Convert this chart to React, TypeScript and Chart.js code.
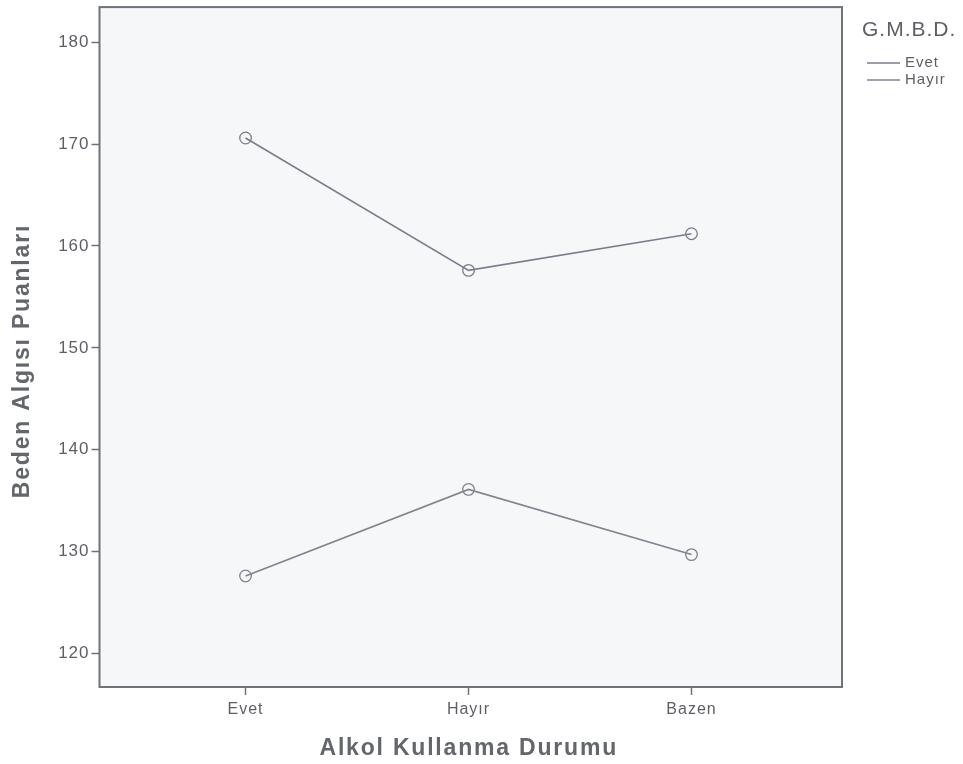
import React, { useEffect, useRef } from "react";
import { Chart, registerables } from "chart.js";

Chart.register(...registerables);

const categories = ["Evet", "Hayır", "Bazen"];
const seriesNames = ["Evet", "Hayır"];
const evetValues = [170.6, 157.6, 161.2];
const hayirValues = [127.6, 136.1, 129.7];
const yTickValues = [120, 130, 140, 150, 160, 170, 180];
const legendTitle = "G.M.B.D.";
const xTitle = "Alkol Kullanma Durumu";
const yTitle = "Beden Algısı Puanları";

const FONT = "'Liberation Sans', Arial, Helvetica, sans-serif";
const TEXT_COLOR = "#5c5f66";
const TITLE_COLOR = "#63666d";
const FRAME_COLOR = "#6f727a";

export default function App() {
  const canvasRef = useRef<HTMLCanvasElement | null>(null);

  useEffect(() => {
    const canvas = canvasRef.current;
    if (!canvas) return;

    const decorPlugin = {
      id: "decor",
      beforeDraw(chart: any) {
        const { ctx, chartArea } = chart;
        (ctx as any).letterSpacing = "1px";
        ctx.save();
        ctx.fillStyle = "#ffffff";
        ctx.fillRect(0, 0, chart.width, chart.height);
        ctx.fillStyle = "#f6f7f9";
        ctx.fillRect(chartArea.left, chartArea.top, chartArea.right - chartArea.left, chartArea.bottom - chartArea.top);
        ctx.restore();
      },
      afterDraw(chart: any) {
        const { ctx, chartArea } = chart;
        ctx.save();
        ctx.strokeStyle = FRAME_COLOR;
        ctx.lineWidth = 2;
        ctx.strokeRect(chartArea.left, chartArea.top, chartArea.right - chartArea.left, chartArea.bottom - chartArea.top);

        // axis titles
        ctx.fillStyle = TITLE_COLOR;
        ctx.font = `bold 23px ${FONT}`;
        (ctx as any).letterSpacing = "1.8px";
        ctx.textAlign = "center";
        ctx.textBaseline = "alphabetic";
        ctx.fillText(xTitle, (chartArea.left + chartArea.right) / 2 - 2, chart.height - 9);
        ctx.save();
        ctx.translate(29, (chartArea.top + chartArea.bottom) / 2 + 14);
        ctx.rotate(-Math.PI / 2);
        ctx.fillText(yTitle, 0, 0);
        ctx.restore();

        // legend
        const lx = chartArea.right + 20;
        ctx.fillStyle = TEXT_COLOR;
        ctx.font = `21px ${FONT}`;
        (ctx as any).letterSpacing = "1px";
        ctx.textBaseline = "middle";
        ctx.textAlign = "left";
        ctx.fillText(legendTitle, lx, 30);
        ctx.font = `15px ${FONT}`;
        (ctx as any).letterSpacing = "1px";
        const colors = chart.data.datasets.map((d: any) => d.borderColor);
        seriesNames.forEach((name, i) => {
          const y = 63 + i * 17;
          ctx.strokeStyle = colors[i];
          ctx.lineWidth = 1.5;
          ctx.beginPath();
          ctx.moveTo(lx + 5, y);
          ctx.lineTo(lx + 38, y);
          ctx.stroke();
          ctx.fillStyle = TEXT_COLOR;
          ctx.fillText(name, lx + 43, y);
        });
        ctx.restore();
      },
    };

    const chart = new Chart(canvas, {
      type: "line",
      data: {
        datasets: [
          {
            label: seriesNames[0],
            data: evetValues.map((v, i) => ({ x: i + 1, y: v })),
            borderColor: "#7a7e8a",
            borderWidth: 1.6,
            pointStyle: "circle",
            pointRadius: 5.8,
            pointBorderWidth: 1.3,
            pointBorderColor: "#7a7e8a",
            pointBackgroundColor: "rgba(0,0,0,0)",
            fill: false,
          },
          {
            label: seriesNames[1],
            data: hayirValues.map((v, i) => ({ x: i + 1, y: v })),
            borderColor: "#80848f",
            borderWidth: 1.6,
            pointStyle: "circle",
            pointRadius: 5.8,
            pointBorderWidth: 1.3,
            pointBorderColor: "#80848f",
            pointBackgroundColor: "rgba(0,0,0,0)",
            fill: false,
          },
        ],
      },
      options: {
        animation: false,
        responsive: false,
        maintainAspectRatio: false,
        layout: { padding: { left: 0, top: 5, right: 121, bottom: 0 } },
        plugins: {
          legend: { display: false },
          tooltip: { enabled: false },
        },
        scales: {
          x: {
            type: "linear",
            min: 0.345,
            max: 3.675,
            afterBuildTicks: (s: any) => {
              s.ticks = categories.map((_, i) => ({ value: i + 1 }));
            },
            afterFit: (s: any) => {
              s.height = 77;
              s.paddingLeft = 0;
              s.paddingRight = 0;
            },
            ticks: {
              callback: (v: any) => categories[Math.round(Number(v)) - 1] ?? "",
              color: TEXT_COLOR,
              font: { family: FONT, size: 16 },
              padding: 5,
              maxRotation: 0,
              autoSkip: false,
            },
            grid: {
              drawOnChartArea: false,
              drawTicks: true,
              tickLength: 8,
              color: FRAME_COLOR,
              tickWidth: 1.5,
            },
            border: { display: false },
            title: { display: false },
          },
          y: {
            type: "linear",
            min: 116.7,
            max: 183.45,
            afterBuildTicks: (s: any) => {
              s.ticks = yTickValues.map((v) => ({ value: v }));
            },
            afterFit: (s: any) => {
              s.width = 99.5;
              s.paddingTop = 0;
              s.paddingBottom = 0;
            },
            ticks: {
              color: TEXT_COLOR,
              font: { family: FONT, size: 17 },
              padding: 2,
            },
            grid: {
              drawOnChartArea: false,
              drawTicks: true,
              tickLength: 8,
              color: FRAME_COLOR,
              tickWidth: 1.5,
            },
            border: { display: false },
            title: { display: false },
          },
        },
      },
      plugins: [decorPlugin],
    } as any);

    return () => chart.destroy();
  }, []);

  return (
    <div style={{ position: "absolute", left: 0, top: 0, width: 963, height: 764, background: "#fff" }}>
      <canvas ref={canvasRef} width={963} height={764} style={{ display: "block", width: 963, height: 764 }} />
    </div>
  );
}
